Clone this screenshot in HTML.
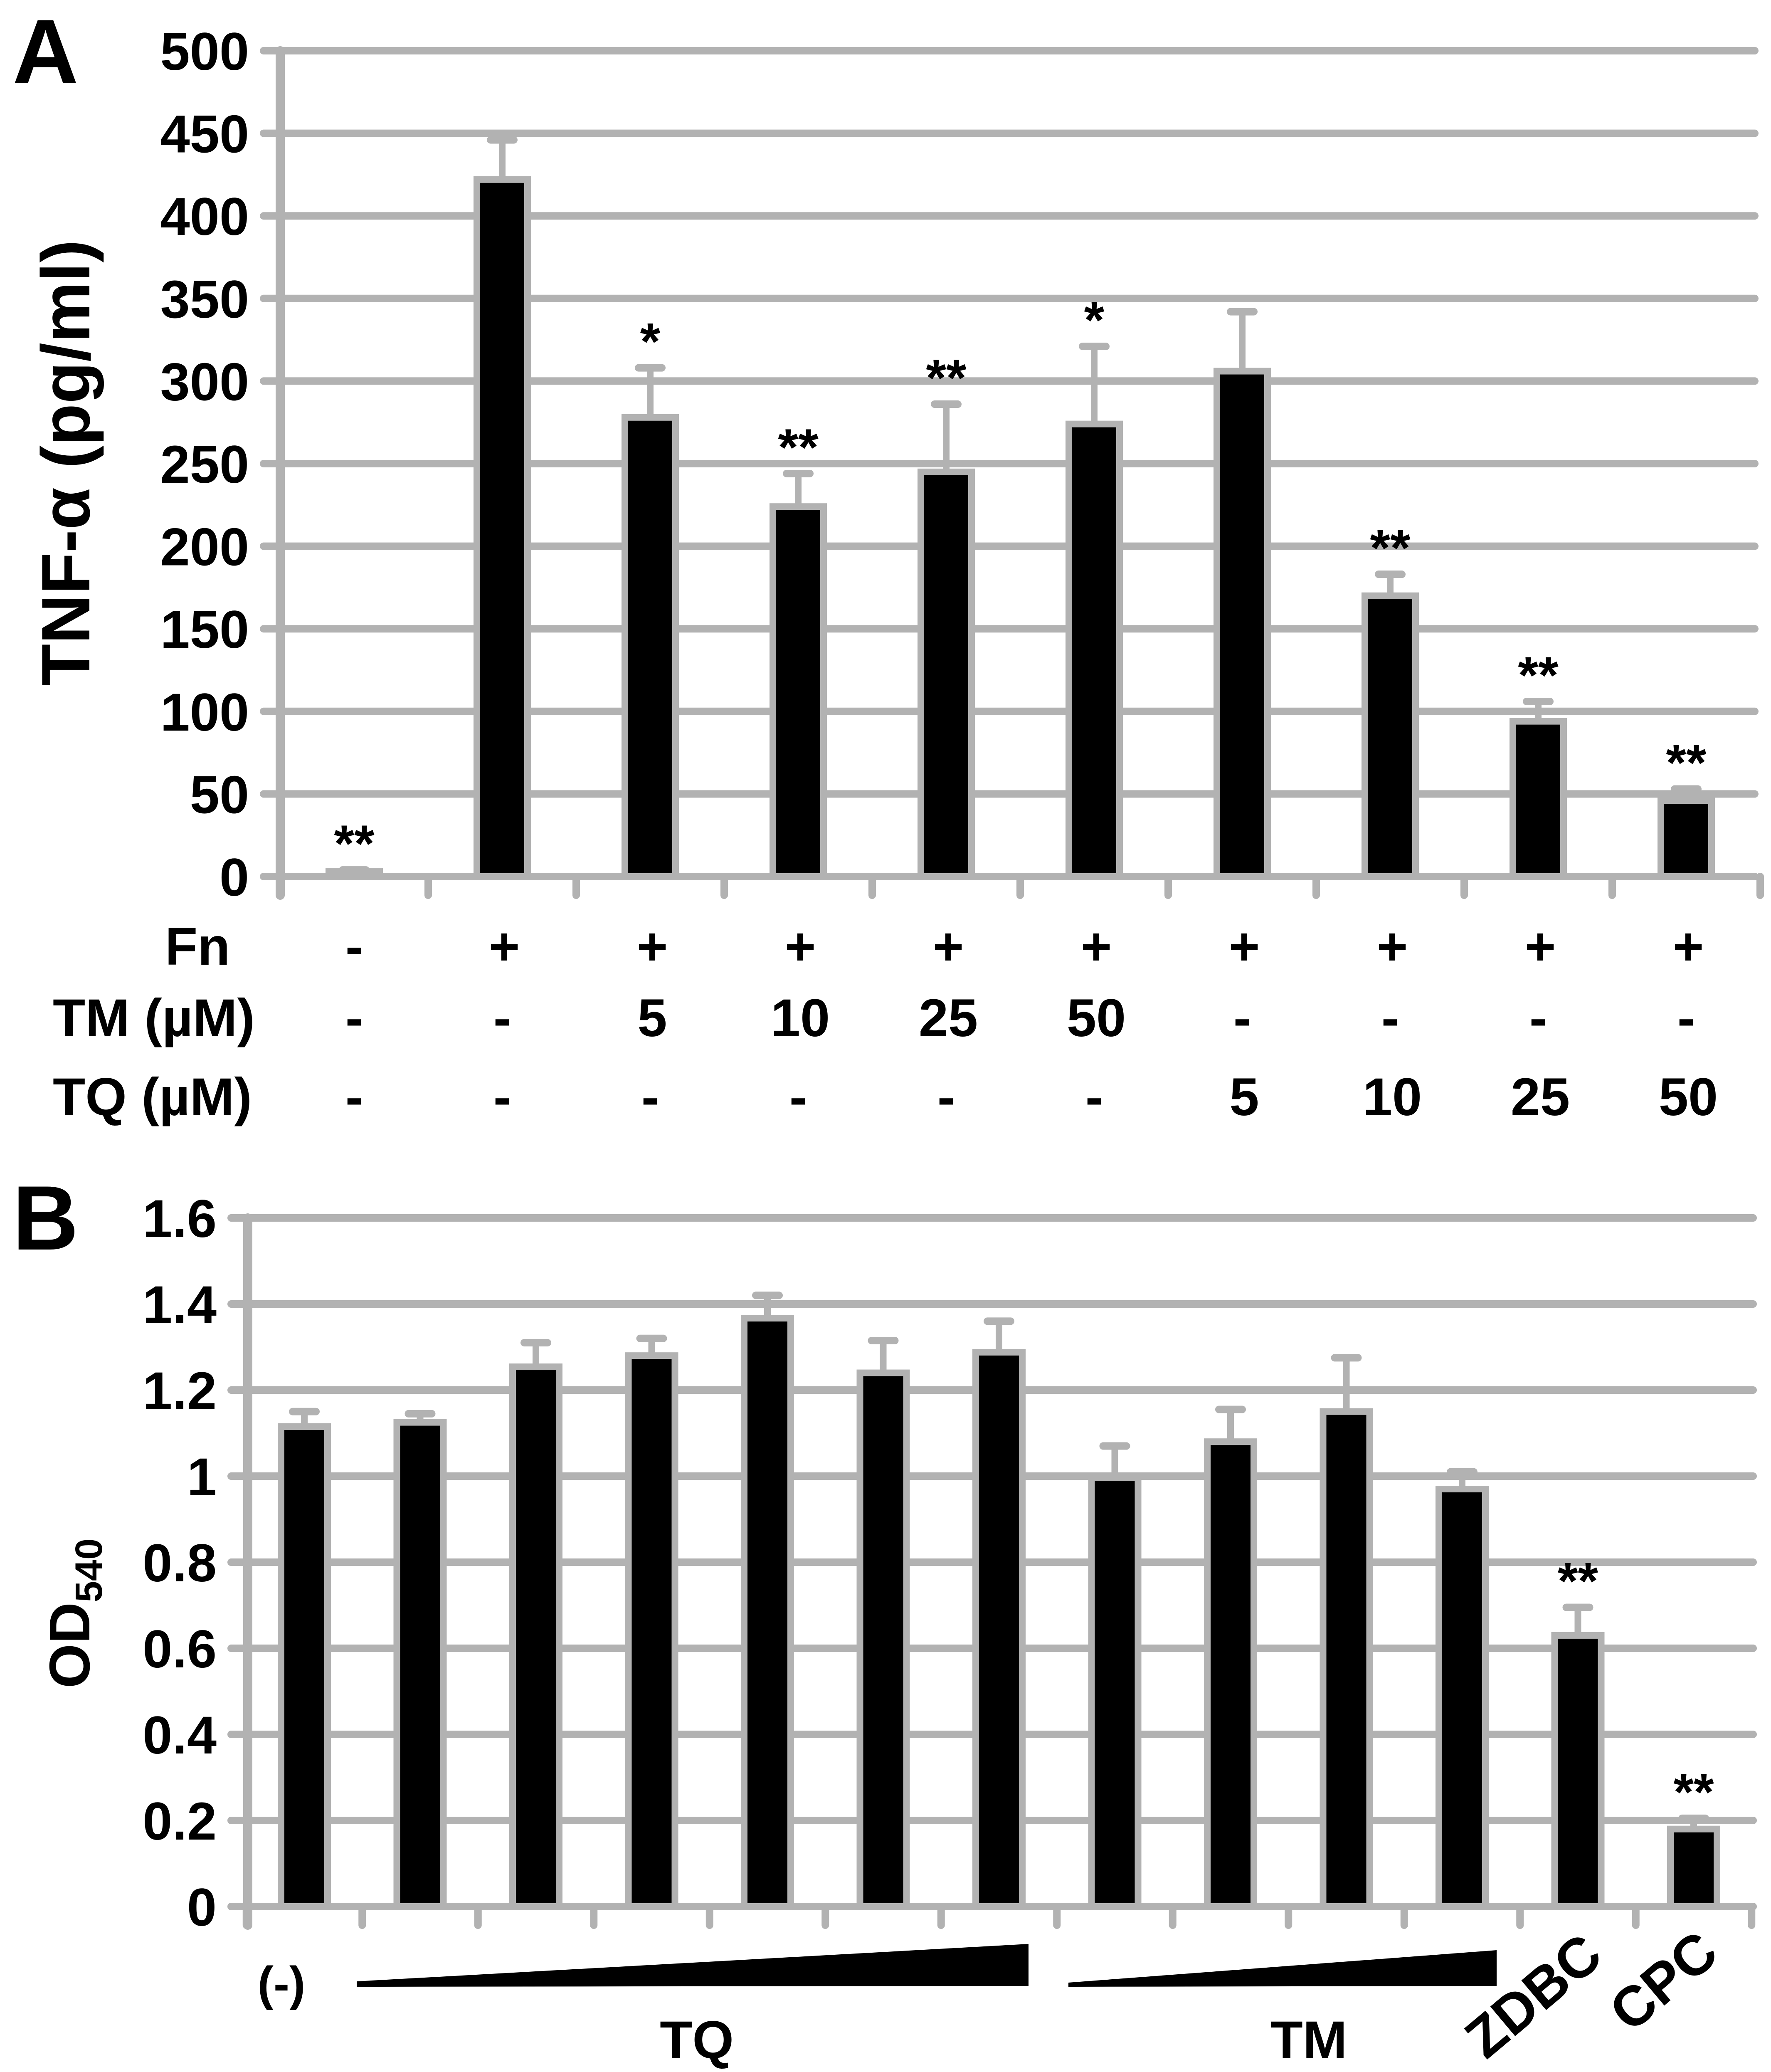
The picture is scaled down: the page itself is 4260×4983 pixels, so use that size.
<!DOCTYPE html>
<html><head><meta charset="utf-8"><style>
html,body{margin:0;padding:0;background:#fff;}
svg{display:block;font-family:"Liberation Sans",sans-serif;font-weight:bold;}
</style></head><body>
<svg id="fig" xmlns="http://www.w3.org/2000/svg" width="4260" height="4983" viewBox="0 0 4260 4983">
<rect width="4260" height="4983" fill="#fff"/>
<g id="gA"></g>
<g id="gB"></g>
<text x="30" y="200" font-size="220">A</text>
<text x="30" y="3005" font-size="220">B</text>
<text transform="translate(215,1113) rotate(-90)" text-anchor="middle" font-size="165">TNF-α (pg/ml)</text>
<text transform="translate(215,3880) rotate(-90)" text-anchor="middle" font-size="138">OD<tspan font-size="92" dy="30">540</tspan></text>
<text x="397" y="2320" font-size="128">Fn</text>
<text x="127" y="2492" font-size="128">TM (µM)</text>
<text x="127" y="2682" font-size="128">TQ (µM)</text>
<text x="677" y="4810" text-anchor="middle" font-size="115">(-)</text>
<polygon points="858,4765 2474,4675 2474,4776 858,4778" fill="#000"/>
<polygon points="2570,4768 3600,4690 3600,4776 2570,4778" fill="#000"/>
<text x="1676" y="4950" text-anchor="middle" font-size="128">TQ</text>
<text x="3148" y="4950" text-anchor="middle" font-size="128">TM</text>
<text transform="translate(3718,4835) rotate(-40)" text-anchor="middle" font-size="135">ZDBC</text>
<text transform="translate(4031,4800) rotate(-40)" text-anchor="middle" font-size="135">CPC</text>
</svg>
<script>
const NS="http://www.w3.org/2000/svg";
// Panel A data
const aTicks=[0,50,100,150,200,250,300,350,400,450,500];
const aValues=[3,422,278,224,245,274,306,170,94,46];
const aErrors=[4,446,308,244,286,321,342,183,106,53];
const aStars=["**","","*","**","**","*","","**","**","**"];
const aFn=["-","+","+","+","+","+","+","+","+","+"];
const aTM=["-","-","5","10","25","50","-","-","-","-"];
const aTQ=["-","-","-","-","-","-","5","10","25","50"];
// Panel B data
const bTicks=["0","0.2","0.4","0.6","0.8","1","1.2","1.4","1.6"];
const bValues=[1.115,1.125,1.254,1.28,1.367,1.24,1.288,0.997,1.08,1.15,0.97,0.63,0.18];
const bErrors=[1.15,1.145,1.31,1.32,1.42,1.315,1.36,1.07,1.155,1.275,1.01,0.695,0.205];
const bStars=["","","","","","","","","","","","**","**"];

function mk(parent,tag,attrs,txt){const e=document.createElementNS(NS,tag);for(const k in attrs)e.setAttribute(k,attrs[k]);if(txt!==undefined)e.textContent=txt;parent.appendChild(e);return e;}
const G="#b2b2b2";

function panel(g,o){
  const y=v=>o.y0-(v-o.vmin)/(o.vmax-o.vmin)*(o.y0-o.y1);
  const x=i=>o.x0c+i*o.step;
  o.ticks.forEach((t,i)=>{
    const v=parseFloat(t);const yy=y(v);
    const gl=mk(g,'line',{x1:o.ax-40,x2:o.xr,y1:yy,y2:yy,stroke:G,'stroke-width':18,'stroke-linecap':'round'});
    
    
    const tl=mk(g,'text',{x:o.ax-75,y:yy+46,'text-anchor':'end','font-size':128},String(t));
    
    
  });
  const axl=mk(g,'line',{x1:o.ax,x2:o.ax,y1:y(o.vmax),y2:o.y0+45,stroke:G,'stroke-width':22,'stroke-linecap':'round'});
  
  
  for(let i=0;i<=o.values.length;i++){
    const tx=x(i)-o.step/2;
    const tk=mk(g,'line',{x1:tx,x2:tx,y1:o.y0,y2:o.y0+45,stroke:G,'stroke-width':18,'stroke-linecap':'round'});
    
    
  }
  o.values.forEach((v,i)=>{
    const cx=x(i),top=y(v),et=y(o.errors[i]);
    const eb=mk(g,'line',{x1:cx,x2:cx,y1:et,y2:top,stroke:G,'stroke-width':16});
    
    
    const ec=mk(g,'line',{x1:cx-28,x2:cx+28,y1:et,y2:et,stroke:G,'stroke-width':18,'stroke-linecap':'round'});
    
    
    const b=mk(g,'rect',{x:cx-o.bw/2,y:top,width:o.bw,height:Math.max(o.y0-top,2),fill:'#000',stroke:G,'stroke-width':16});
    
    
    if(o.stars[i]){
      const s=mk(g,'text',{x:cx,y:et-20,'text-anchor':'middle','font-size':125},o.stars[i]);
      
      
    }
  });
  return x;
}
const xA=panel(document.getElementById('gA'),{ticks:aTicks,values:aValues,errors:aErrors,stars:aStars,vmin:0,vmax:500,y0:2108,y1:122,ax:674,xr:4221,x0c:852,step:356,bw:122});
const xB=panel(document.getElementById('gB'),{ticks:bTicks,values:bValues,errors:bErrors,stars:bStars,vmin:0,vmax:1.6,y0:4585,y1:2929,ax:596,xr:4217,x0c:732,step:278.5,bw:112});
const gA=document.getElementById('gA');
[[aFn,2320,'fn-value'],[aTM,2492,'tm-value'],[aTQ,2682,'tq-value']].forEach(([arr,yy,nm])=>{
  arr.forEach((t,i)=>{
    const e=mk(gA,'text',{x:xA(i)+(t==='-'?0:5),y:yy,'text-anchor':'middle','font-size':128},t);
    
    
  });
});
</script>
</body></html>
